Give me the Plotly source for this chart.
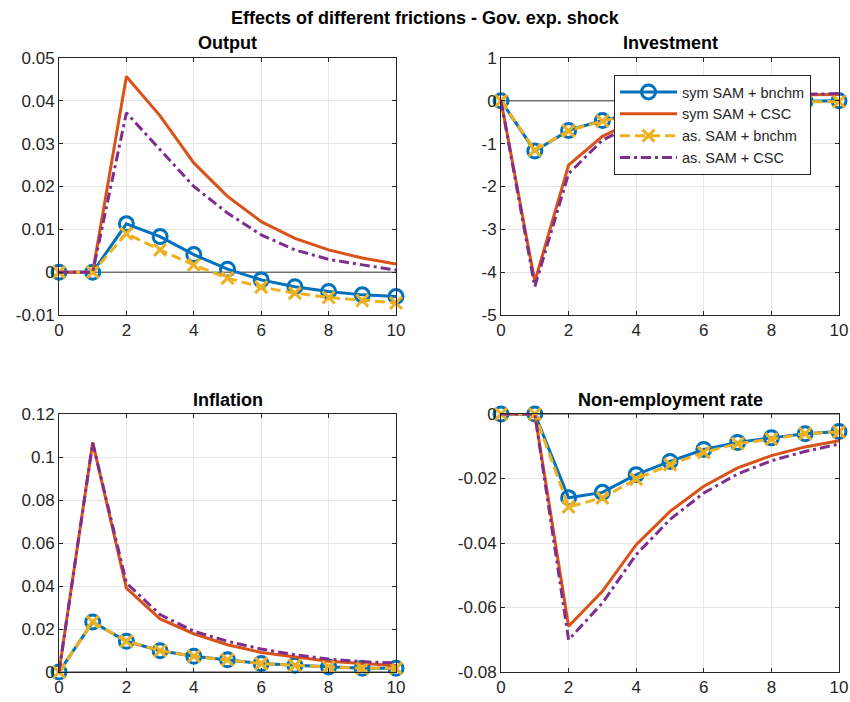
import plotly.graph_objects as go

x = list(range(11))

series_names = ["sym SAM + bnchm", "sym SAM + CSC", "as. SAM + bnchm", "as. SAM + CSC"]

output_sym_bn = [0, 0, 0.0113, 0.0083, 0.0041, 0.0007, -0.0018, -0.0034, -0.0045, -0.0053, -0.0057]
output_sym_csc = [0, 0, 0.0457, 0.0365, 0.0255, 0.0177, 0.0118, 0.0079, 0.0052, 0.0033, 0.0019]
output_as_bn = [0, 0, 0.0090, 0.0052, 0.0017, -0.0014, -0.0035, -0.0049, -0.0059, -0.0066, -0.0072]
output_as_csc = [0, 0, 0.0372, 0.0286, 0.0200, 0.0138, 0.0087, 0.0052, 0.0030, 0.0017, 0.0005]

inv_sym_bn = [0, -1.17, -0.69, -0.46, -0.29, -0.17, -0.10, -0.05, -0.02, -0.01, 0.0]
inv_sym_csc = [0, -4.22, -1.50, -0.83, -0.45, -0.20, -0.05, 0.05, 0.11, 0.14, 0.15]
inv_as_bn = [0, -1.15, -0.70, -0.47, -0.30, -0.18, -0.11, -0.06, -0.03, -0.02, -0.02]
inv_as_csc = [0, -4.34, -1.70, -0.92, -0.52, -0.25, -0.08, 0.04, 0.11, 0.15, 0.17]

infl_sym_bn = [0, 0.0233, 0.0143, 0.0099, 0.0073, 0.0057, 0.0039, 0.0031, 0.0023, 0.0017, 0.0017]
infl_sym_csc = [0, 0.1068, 0.0390, 0.0247, 0.0178, 0.0127, 0.0091, 0.0070, 0.0050, 0.0039, 0.0030]
infl_as_bn = [0, 0.0233, 0.0143, 0.0099, 0.0073, 0.0057, 0.0039, 0.0031, 0.0023, 0.0017, 0.0017]
infl_as_csc = [0, 0.1065, 0.0414, 0.0267, 0.0190, 0.0143, 0.0107, 0.0080, 0.0060, 0.0048, 0.0042]

nonemp_sym_bn = [0, 0, -0.0260, -0.0243, -0.0188, -0.0147, -0.0110, -0.0088, -0.0074, -0.0061, -0.0054]
nonemp_sym_csc = [0, 0, -0.0658, -0.0550, -0.0405, -0.0302, -0.0224, -0.0167, -0.0129, -0.0102, -0.0083]
nonemp_as_bn = [0, 0, -0.0288, -0.0260, -0.0202, -0.0157, -0.0119, -0.0092, -0.0078, -0.0061, -0.0056]
nonemp_as_csc = [0, 0, -0.0700, -0.0586, -0.0436, -0.0327, -0.0245, -0.0186, -0.0145, -0.0116, -0.0093]

panels = [
    ("Output", [output_sym_bn, output_sym_csc, output_as_bn, output_as_csc], [-0.01, 0.05], 0.01),
    ("Investment", [inv_sym_bn, inv_sym_csc, inv_as_bn, inv_as_csc], [-5, 1], 1),
    ("Inflation", [infl_sym_bn, infl_sym_csc, infl_as_bn, infl_as_csc], [0, 0.12], 0.02),
    ("Non-employment rate", [nonemp_sym_bn, nonemp_sym_csc, nonemp_as_bn, nonemp_as_csc], [-0.08, 0], 0.02),
]

colors = ["#0072BD", "#D95319", "#EDB120", "#7E2F8E"]
dashes = ["solid", "solid", "10px,5px", "10px,4px,3px,4px"]
symbols = ["circle-open", None, "x-thin-open", None]

W, H = 850, 702
ml, mr, mt, mb = 59, 11, 58, 30
pw, ph = W - ml - mr, H - mt - mb

def px_x(p):
    return (p - ml) / pw

def px_y(p):
    return (H - mb - p) / ph

xdoms = [[0, px_x(396)], [px_x(501), 1.0], [0, px_x(396)], [px_x(501), 1.0]]
ydoms = [[px_y(315), 1.0], [px_y(315), 1.0], [0, px_y(414)], [0, px_y(414)]]

fig = go.Figure()
font_c = "#262626"
FAM = "Liberation Sans, Arial"

for i, (title, data, yr, dt) in enumerate(panels):
    k = i + 1
    xa = "x" if k == 1 else f"x{k}"
    ya = "y" if k == 1 else f"y{k}"
    fig.add_trace(go.Scatter(x=[0, 10], y=[0, 0], mode="lines",
                             line=dict(color="#333333", width=1),
                             showlegend=False, hoverinfo="skip",
                             xaxis=xa, yaxis=ya))
    for j, ys in enumerate(data):
        mode = "lines+markers" if symbols[j] else "lines"
        kw = {}
        if symbols[j]:
            kw["marker"] = dict(symbol=symbols[j], size=14 if j == 0 else 12,
                                color=colors[j], line=dict(width=3, color=colors[j]))
        fig.add_trace(go.Scatter(x=x, y=ys, mode=mode, name=series_names[j],
                                 line=dict(color=colors[j], width=3, dash=dashes[j]),
                                 showlegend=(k == 2), cliponaxis=False,
                                 xaxis=xa, yaxis=ya, **kw))
    axis_common = dict(showline=True, linecolor=font_c, linewidth=1, mirror="ticks",
                       showgrid=True, gridcolor="#e6e6e6", gridwidth=1,
                       zeroline=False, ticks="inside", ticklen=4, tickcolor=font_c,
                       automargin=False,
                       tickfont=dict(family=FAM, size=17, color=font_c))
    fig.layout[("xaxis" if k == 1 else f"xaxis{k}")] = dict(
        domain=xdoms[i], range=[0, 10], tickvals=[0, 2, 4, 6, 8, 10],
        anchor=ya, **axis_common)
    nt = int(round((yr[1] - yr[0]) / dt))
    tv = [round(yr[0] + n * dt, 4) for n in range(nt + 1)]
    tt = [("%g" % v) for v in tv]
    fig.layout[("yaxis" if k == 1 else f"yaxis{k}")] = dict(
        domain=ydoms[i], range=yr, tickvals=tv, ticktext=tt,
        anchor=xa, **axis_common)
    cx = (xdoms[i][0] + xdoms[i][1]) / 2
    ty = px_y(43) if i < 2 else px_y(400)
    fig.add_annotation(x=cx, y=ty, xref="paper", yref="paper", text="<b>%s</b>" % title,
                       showarrow=False, xanchor="center", yanchor="middle",
                       font=dict(family=FAM, size=18, color="black"))

fig.add_annotation(x=px_x(425), y=px_y(18), xref="paper", yref="paper",
                   text="<b>Effects of different frictions - Gov. exp. shock</b>",
                   showarrow=False, xanchor="center", yanchor="middle",
                   font=dict(family=FAM, size=18, color="black"))

fig.update_layout(
    width=W, height=H,
    margin=dict(l=ml, r=mr, t=mt, b=mb),
    paper_bgcolor="white", plot_bgcolor="white",
    showlegend=True,
    legend=dict(x=px_x(614), y=px_y(75), xanchor="left", yanchor="top",
                bgcolor="white", bordercolor="#262626", borderwidth=1,
                font=dict(family=FAM, size=14.5, color=font_c),
                tracegroupgap=0, itemwidth=57),
)

fig.write_html("out.html")
